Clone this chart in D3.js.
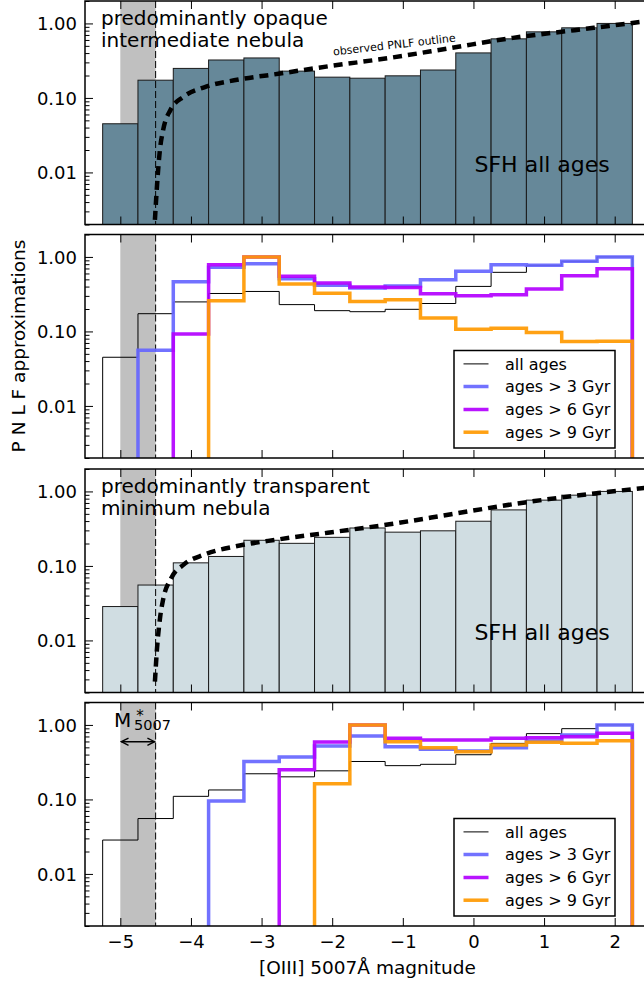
<!DOCTYPE html>
<html><head><meta charset="utf-8">
<script src="https://cdn.jsdelivr.net/npm/d3@7"></script>
<style>body{margin:0;background:#fff}svg{display:block}text{font-family:"DejaVu Sans",sans-serif}</style>
</head><body><div id="chart"></div>
<script>
// ---- data ----
const binCenters = [-5, -4.5, -4, -3.5, -3, -2.5, -2, -1.5, -1, -0.5, 0, 0.5, 1, 1.5, 2];
const binWidth = 0.5;
const xTicks = [-5, -4, -3, -2, -1, 0, 1, 2];
const yTicks = [0.01, 0.1, 1];
const yMinorTicks = [0.002,0.003,0.004,0.005,0.006,0.007,0.008,0.009,0.02,0.03,0.04,0.05,0.06,0.07,0.08,0.09,0.2,0.3,0.4,0.5,0.6,0.7,0.8,0.9,2];
const seriesNames = ["all ages", "ages > 3 Gyr", "ages > 6 Gyr", "ages > 9 Gyr"];

// predominantly opaque intermediate nebula
const opaqueAll = [0.045, 0.173, 0.249, 0.323, 0.344, 0.229, 0.190, 0.184, 0.198, 0.237, 0.402, 0.621, 0.771, 0.873, 1.00];
const opaqueGt3 = [null, 0.056, 0.465, 0.726, 0.813, 0.511, 0.416, 0.383, 0.407, 0.495, 0.641, 0.788, 0.773, 0.875, 1.00];
const opaqueGt6 = [null, null, 0.092, 0.788, 1.00, 0.55, 0.447, 0.394, 0.39, 0.321, 0.301, 0.311, 0.371, 0.561, 0.696];
const opaqueGt9 = [null, null, null, 0.258, 1.00, 0.433, 0.325, 0.253, 0.267, 0.151, 0.107, 0.110, 0.097, 0.073, 0.074];
// predominantly transparent minimum nebula
const transAll = [0.0285, 0.0554, 0.110, 0.134, 0.221, 0.201, 0.242, 0.323, 0.284, 0.296, 0.398, 0.565, 0.764, 0.891, 1.00];
const transGt3 = [null, null, null, 0.095, 0.324, 0.371, 0.521, 0.711, 0.51, 0.47, 0.447, 0.494, 0.609, 0.733, 1.00];
const transGt6 = [null, null, null, null, null, 0.25, 0.59, 1.00, 0.66, 0.628, 0.628, 0.66, 0.675, 0.696, 0.772];
const transGt9 = [null, null, null, null, null, null, 0.162, 1.00, 0.596, 0.494, 0.437, 0.537, 0.584, 0.567, 0.615];

// observed PNLF outline
const pnlfOpaqueM = [-4.51, -4.482, -4.44, -4.394, -4.29, -4.103, -3.812, -3.345, -2.762, -2.063, -1.19, -0.315, 0.559, 1.434, 2.45];
const pnlfOpaqueN = [0.0023, 0.0063, 0.0198, 0.037, 0.069, 0.104, 0.139, 0.175, 0.211, 0.265, 0.344, 0.469, 0.64, 0.812, 1.07];
const pnlfTransM = [-4.51, -4.482, -4.435, -4.395, -4.278, -4.103, -3.812, -3.345, -2.762, -2.063, -1.19, -0.315, 0.559, 1.434, 2.45];
const pnlfTransN = [0.0028, 0.0074, 0.0209, 0.035, 0.069, 0.104, 0.142, 0.185, 0.227, 0.279, 0.362, 0.494, 0.674, 0.874, 1.12];

const mStarBand = [-5, -4.5];

// ---- layout ----
const W = 644, H = 985;
const colors = ["#000000", "#6666ff", "#b300ff", "#ff9900"];
const widths = [1, 3.5, 3.5, 3.5];
const panelTops = [1, 234.5, 469, 702.5];
const panelH = 223.5;
const x = d3.scaleLinear().domain([-5.5, 2.5]).range([85, 650]);

const svg = d3.select("#chart").append("svg").attr("width", W).attr("height", H);

function yScale(top) { return d3.scaleLog().domain([0.002, 2]).range([top + panelH, top]); }

function stepPath(vals, y, bottom) {
  let i0 = vals.findIndex(v => v != null);
  let i1 = vals.length - 1; while (vals[i1] == null) i1--;
  const p = d3.path();
  p.moveTo(x(binCenters[i0] - binWidth/2), bottom);
  for (let i = i0; i <= i1; i++) {
    const v = vals[i];
    const yy = v == null ? bottom : y(v);
    p.lineTo(x(binCenters[i] - binWidth/2), yy);
    p.lineTo(x(binCenters[i] + binWidth/2), yy);
  }
  p.lineTo(x(binCenters[i1] + binWidth/2), bottom);
  return p.toString();
}

function panel(idx, opts) {
  const top = panelTops[idx];
  const bottom = top + panelH;
  const y = yScale(top);
  const g = svg.append("g");
  const cid = "clip" + idx;
  svg.append("clipPath").attr("id", cid).append("rect")
    .attr("x", x.range()[0]).attr("y", top).attr("width", x.range()[1] - x.range()[0]).attr("height", panelH);
  const c = g.append("g").attr("clip-path", `url(#${cid})`);
  // M* band
  c.append("rect").attr("x", x(mStarBand[0])).attr("y", top)
    .attr("width", x(mStarBand[1]) - x(mStarBand[0])).attr("height", panelH).attr("fill", "#c0c0c0");
  if (opts.bars) {
    c.selectAll("rect.bar").data(opts.bars).join("rect").attr("class", "bar")
      .attr("x", (d, i) => x(binCenters[i] - binWidth/2))
      .attr("width", x(binWidth) - x(0))
      .attr("y", d => y(d)).attr("height", d => bottom + 2 - y(d))
      .attr("fill", opts.barColor).attr("stroke", "#1a1a1a").attr("stroke-width", 1);
  }
  // dashed M* line
  c.append("line").attr("x1", x(mStarBand[1])).attr("x2", x(mStarBand[1]))
    .attr("y1", top).attr("y2", bottom).attr("stroke", "#000").attr("stroke-width", 1)
    .attr("stroke-dasharray", "7,3");
  if (opts.steps) {
    opts.steps.forEach((vals, k) => {
      c.append("path").attr("d", stepPath(vals, y, bottom + 5)).attr("fill", "none")
        .attr("stroke", colors[k]).attr("stroke-width", widths[k]).attr("stroke-opacity", k ? 0.92 : 1);
    });
  }
  if (opts.pnlf) {
    const pts = opts.pnlf[0].map((m, i) => [m, opts.pnlf[1][i]]);
    c.append("path").attr("d", d3.line().x(d => x(d[0])).y(d => y(d[1])).curve(d3.curveMonotoneX)(pts))
      .attr("fill", "none").attr("stroke", "#000").attr("stroke-width", 4.5).attr("stroke-dasharray", "9,6");
  }
  // axes
  const ax = g.append("g");
  const yl = ax.append("g").attr("transform", `translate(${x.range()[0]},0)`)
    .call(d3.axisLeft(y).tickValues(yTicks).tickFormat(d3.format(".2f")).tickSize(-8).tickPadding(8));
  const ym = ax.append("g").attr("transform", `translate(${x.range()[0]},0)`)
    .call(d3.axisLeft(y).tickValues(yMinorTicks).tickFormat("").tickSize(-4.5));
  const xb = ax.append("g").attr("transform", `translate(0,${bottom})`)
    .call(d3.axisBottom(x).tickValues(xTicks).tickFormat(opts.xlabels ? d3.format("d") : "").tickSize(-8).tickPadding(9));
  const xt = ax.append("g").attr("transform", `translate(0,${top})`)
    .call(d3.axisTop(x).tickValues(xTicks).tickFormat("").tickSize(-8));
  [yl, ym, xb, xt].forEach(a => {
    a.select(".domain").remove();
    a.attr("font-size", 18).attr("font-family", "DejaVu Sans");
    a.selectAll("text").attr("fill", "#000");
  });
  ax.selectAll(".tick line").attr("stroke", "#000").attr("stroke-width", 1);
  yl.selectAll("text").attr("dy", "0.36em");
  // frame
  g.append("rect").attr("x", x.range()[0]).attr("y", top).attr("width", x.range()[1] - x.range()[0])
    .attr("height", panelH).attr("fill", "none").attr("stroke", "#000").attr("stroke-width", 1.5);
  // legend
  if (opts.legend) {
    const lg = g.append("g").attr("transform", `translate(454,${top + 116})`);
    lg.append("rect").attr("width", 161).attr("height", 97.5).attr("fill", "#fff")
      .attr("stroke", "#000").attr("stroke-width", 1.5);
    const rows = [13.4, 36, 59, 81.7];
    seriesNames.forEach((n, k) => {
      lg.append("line").attr("x1", 9.5).attr("x2", 34.5).attr("y1", rows[k]).attr("y2", rows[k])
        .attr("stroke", colors[k]).attr("stroke-width", widths[k]).attr("stroke-opacity", k ? 0.92 : 1);
      lg.append("text").attr("x", 51).attr("y", rows[k]).attr("dy", "0.36em").attr("font-size", 16).text(n);
    });
  }
  // annotations
  if (opts.title) {
    opts.title.forEach((t, i) => g.append("text").attr("x", 101).attr("y", top + 23.7 + i * 21.8)
      .attr("font-size", 20).text(t));
  }
  if (opts.sfh) {
    g.append("text").attr("x", 474.5).attr("y", top + 171).attr("font-size", 22).text("SFH all ages");
  }
  return { g, y, top, bottom };
}

const p1 = panel(0, { bars: opaqueAll, barColor: "#668899", pnlf: [pnlfOpaqueM, pnlfOpaqueN],
  title: ["predominantly opaque", "intermediate nebula"], sfh: true });
p1.g.append("text").attr("transform", "translate(333.5,55.5) rotate(-6.5)").attr("font-size", 11)
  .text("observed PNLF outline");
panel(1, { steps: [opaqueAll, opaqueGt3, opaqueGt6, opaqueGt9], legend: true });
panel(2, { bars: transAll, barColor: "#d0dde2", pnlf: [pnlfTransM, pnlfTransN],
  title: ["predominantly transparent", "minimum nebula"], sfh: true });
const p4 = panel(3, { steps: [transAll, transGt3, transGt6, transGt9], legend: true, xlabels: true });

// M*_5007 annotation (single text element with super/subscript tspans)
const ann = p4.g.append("g");
const mt = ann.append("text").attr("x", 114).attr("y", 726.7).attr("font-size", 20);
mt.append("tspan").text("M");
mt.append("tspan").attr("x", 136.3).attr("y", 720.5).attr("font-size", 15).text("*");
mt.append("tspan").attr("x", 134).attr("y", 729.5).attr("font-size", 14.5).text("5007");
svg.append("defs").html('<marker id="ah" viewBox="0 0 10 10" refX="9" refY="5" markerWidth="9" markerHeight="9" markerUnits="userSpaceOnUse" orient="auto-start-reverse"><path d="M1,1 L9,5 L1,9" fill="none" stroke="#000" stroke-width="1.5"/></marker>');
ann.append("line").attr("x1", x(mStarBand[0]) + 1).attr("x2", x(mStarBand[1]) - 1)
  .attr("y1", 741.7).attr("y2", 741.7).attr("stroke", "#000").attr("stroke-width", 1.5)
  .attr("marker-start", "url(#ah)").attr("marker-end", "url(#ah)");

// axis labels
svg.append("text").attr("x", 367.5).attr("y", 974).attr("text-anchor", "middle").attr("font-size", 18.5)
  .text("[OIII] 5007Å magnitude");
svg.append("text").attr("transform", "translate(25,346) rotate(-90)").attr("text-anchor", "middle")
  .attr("font-size", 18.5).text("P N L F approximations");
</script></body></html>
